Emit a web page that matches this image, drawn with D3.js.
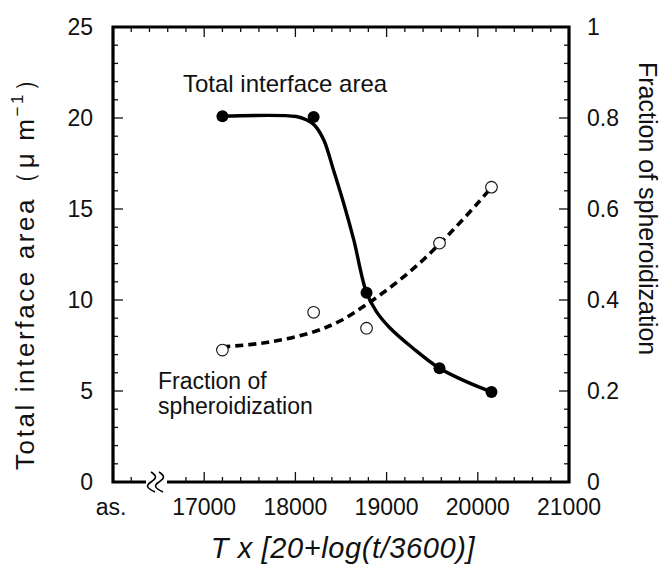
<!DOCTYPE html>
<html>
<head>
<meta charset="utf-8">
<script src="https://cdn.jsdelivr.net/npm/d3@7"></script>
<style>
  body { margin: 0; background: #fff; }
  text { font-family: "Liberation Sans", Arial, sans-serif; fill: #111; }
</style>
</head>
<body>
<div id="vis"></div>
<script>
const FRAME_WIDTH = 670;
const FRAME_HEIGHT = 570;
const MARGINS = {left: 113, right: 101, top: 27, bottom: 88};

// measured points (x = T x [20+log(t/3600)])
const tempParam = [17200, 18200, 18780, 19580, 20150];
const interfaceArea = [20.1, 20.05, 10.4, 6.25, 4.95];
const spheroidFrac = [0.29, 0.373, 0.338, 0.525, 0.648];

// fitted curves
const areaFitX = [17200, 18010, 18120, 18210, 18310, 18420, 18530, 18640, 18780, 18890, 19040, 19290, 19580, 19880, 20150];
const areaFitY = [20.1, 20.08, 19.9, 19.6, 18.8, 17.1, 15.3, 13.3, 10.4, 9.35, 8.45, 7.35, 6.25, 5.5, 4.95];
const fracFitX = [17200, 17700, 18200, 18500, 18800, 19100, 19400, 19700, 20000, 20150];
const fracFitY = [0.297, 0.307, 0.33, 0.355, 0.393, 0.437, 0.488, 0.548, 0.613, 0.648];

// ticks
const xTickValues = [17000, 18000, 19000, 20000, 21000];
const xMinorTicks = d3.range(16800, 21001, 200);
const xTopTicks = d3.range(16200, 21001, 200);
const leftTicks = [0, 5, 10, 15, 20, 25];
const rightTicks = [0, 0.2, 0.4, 0.6, 0.8, 1];
const xStartLabel = "as.";

const VIS_WIDTH = FRAME_WIDTH - MARGINS.left - MARGINS.right;
const VIS_HEIGHT = FRAME_HEIGHT - MARGINS.top - MARGINS.bottom;

const svg = d3.select('#vis')
  .append('svg')
    .attr('width', FRAME_WIDTH)
    .attr('height', FRAME_HEIGHT);

const X_SCALE = d3.scaleLinear().domain([16000, 21000]).range([MARGINS.left, MARGINS.left + VIS_WIDTH]);
const Y_LEFT = d3.scaleLinear().domain([0, 25]).range([MARGINS.top + VIS_HEIGHT, MARGINS.top]);
const Y_RIGHT = d3.scaleLinear().domain([0, 1]).range([MARGINS.top + VIS_HEIGHT, MARGINS.top]);

const x0 = X_SCALE.range()[0], x1 = X_SCALE.range()[1];
const yB = Y_LEFT.range()[0], yT = Y_LEFT.range()[1];

// inward ticks
const tickG = svg.append('g').attr('stroke', '#111').attr('stroke-width', 1.3);
xMinorTicks.forEach(v => {
  const len = v % 1000 === 0 ? 10 : 5;
  tickG.append('line').attr('x1', X_SCALE(v)).attr('x2', X_SCALE(v)).attr('y1', yB).attr('y2', yB - len);
});
tickG.append('line').attr('x1', X_SCALE(16200)).attr('x2', X_SCALE(16200)).attr('y1', yB).attr('y2', yB - 5);
xTopTicks.forEach(v => {
  const len = v % 1000 === 0 ? 10 : 5;
  tickG.append('line').attr('x1', X_SCALE(v)).attr('x2', X_SCALE(v)).attr('y1', yT).attr('y2', yT + len);
});
d3.range(0, 25.01, 1).forEach(v => {
  const len = v % 5 === 0 ? 10 : 5;
  tickG.append('line').attr('x1', x0).attr('x2', x0 + len).attr('y1', Y_LEFT(v)).attr('y2', Y_LEFT(v));
  tickG.append('line').attr('x1', x1).attr('x2', x1 - len).attr('y1', Y_LEFT(v)).attr('y2', Y_LEFT(v));
});

// frame with break on the bottom axis
const frame = svg.append('g').attr('stroke', '#000').attr('stroke-width', 3.2).attr('fill', 'none');
frame.append('path').attr('d', `M${x0 + 33},${yB} L${x0},${yB} L${x0},${yT} L${x1},${yT} L${x1},${yB} L${x0 + 54},${yB}`)
  .attr('stroke-linejoin', 'miter');
const brk = svg.append('g').attr('stroke', '#000').attr('stroke-width', 1.6).attr('fill', 'none');
[0, 8].forEach(dx => {
  const bx = x0 + 38 + dx;
  brk.append('path').attr('d', `M${bx},${yB - 10} C${bx + 6},${yB - 6} ${bx + 6},${yB - 4} ${bx},${yB} C${bx - 6},${yB + 4} ${bx - 4},${yB + 6} ${bx + 4},${yB + 10}`);
});

// tick labels
const labG = svg.append('g').attr('font-size', '23px');
labG.selectAll('.yl').data(leftTicks).enter().append('text')
  .attr('x', x0 - 20).attr('y', d => Y_LEFT(d)).attr('dy', '0.36em')
  .attr('text-anchor', 'end').text(d => d);
labG.selectAll('.yr').data(rightTicks).enter().append('text')
  .attr('x', x1 + 18).attr('y', d => Y_RIGHT(d)).attr('dy', '0.36em')
  .attr('text-anchor', 'start').text(d => d3.format('~g')(d));
labG.selectAll('.xl').data(xTickValues).enter().append('text')
  .attr('x', d => X_SCALE(d)).attr('y', yB + 33)
  .attr('text-anchor', 'middle').text(d => d);
labG.append('text').attr('x', x0 - 2).attr('y', yB + 33).attr('text-anchor', 'middle').text(xStartLabel);

// axis titles
svg.append('text')
  .attr('x', 343).attr('y', 558).attr('text-anchor', 'middle')
  .attr('font-size', '29px').attr('font-style', 'italic').attr('letter-spacing', '0.6px')
  .text('T x [20+log(t/3600)]');

const yl = svg.append('text')
  .attr('transform', 'translate(34,470) rotate(-90)')
  .attr('font-size', '26px').attr('letter-spacing', '2.6px');
yl.append('tspan').text('Total interface area\uFF08\u03BC m');
yl.append('tspan').attr('font-size', '17px').attr('dy', -11).text('\u22121');
yl.append('tspan').attr('dy', 11).text('\uFF09');

svg.append('text')
  .attr('transform', 'translate(639,62) rotate(90)')
  .attr('font-size', '25px')
  .text('Fraction of spheroidization');

// annotations
svg.append('text').attr('x', 183).attr('y', 92).attr('font-size', '24px').text('Total interface area');
svg.append('text').attr('x', 158).attr('y', 389).attr('font-size', '23px').text('Fraction of');
svg.append('text').attr('x', 158).attr('y', 414).attr('font-size', '23px').text('spheroidization');

// curves
const areaLine = d3.line().x(d => X_SCALE(d[0])).y(d => Y_LEFT(d[1])).curve(d3.curveCatmullRom.alpha(0.5));
const fracLine = d3.line().x(d => X_SCALE(d[0])).y(d => Y_RIGHT(d[1])).curve(d3.curveCatmullRom.alpha(0.5));

svg.append('path').datum(d3.zip(fracFitX, fracFitY))
  .attr('d', fracLine).attr('fill', 'none').attr('stroke', '#000')
  .attr('stroke-width', 3.6).attr('stroke-dasharray', '8,5');
svg.append('path').datum(d3.zip(areaFitX, areaFitY))
  .attr('d', areaLine).attr('fill', 'none').attr('stroke', '#000')
  .attr('stroke-width', 3.4);

// points
svg.selectAll('.open').data(d3.zip(tempParam, spheroidFrac)).enter().append('circle')
  .attr('cx', d => X_SCALE(d[0])).attr('cy', d => Y_RIGHT(d[1])).attr('r', 5.8)
  .attr('fill', '#fff').attr('stroke', '#111').attr('stroke-width', 1.1);
svg.selectAll('.filled').data(d3.zip(tempParam, interfaceArea)).enter().append('circle')
  .attr('cx', d => X_SCALE(d[0])).attr('cy', d => Y_LEFT(d[1])).attr('r', 6)
  .attr('fill', '#000');
</script>
</body>
</html>
